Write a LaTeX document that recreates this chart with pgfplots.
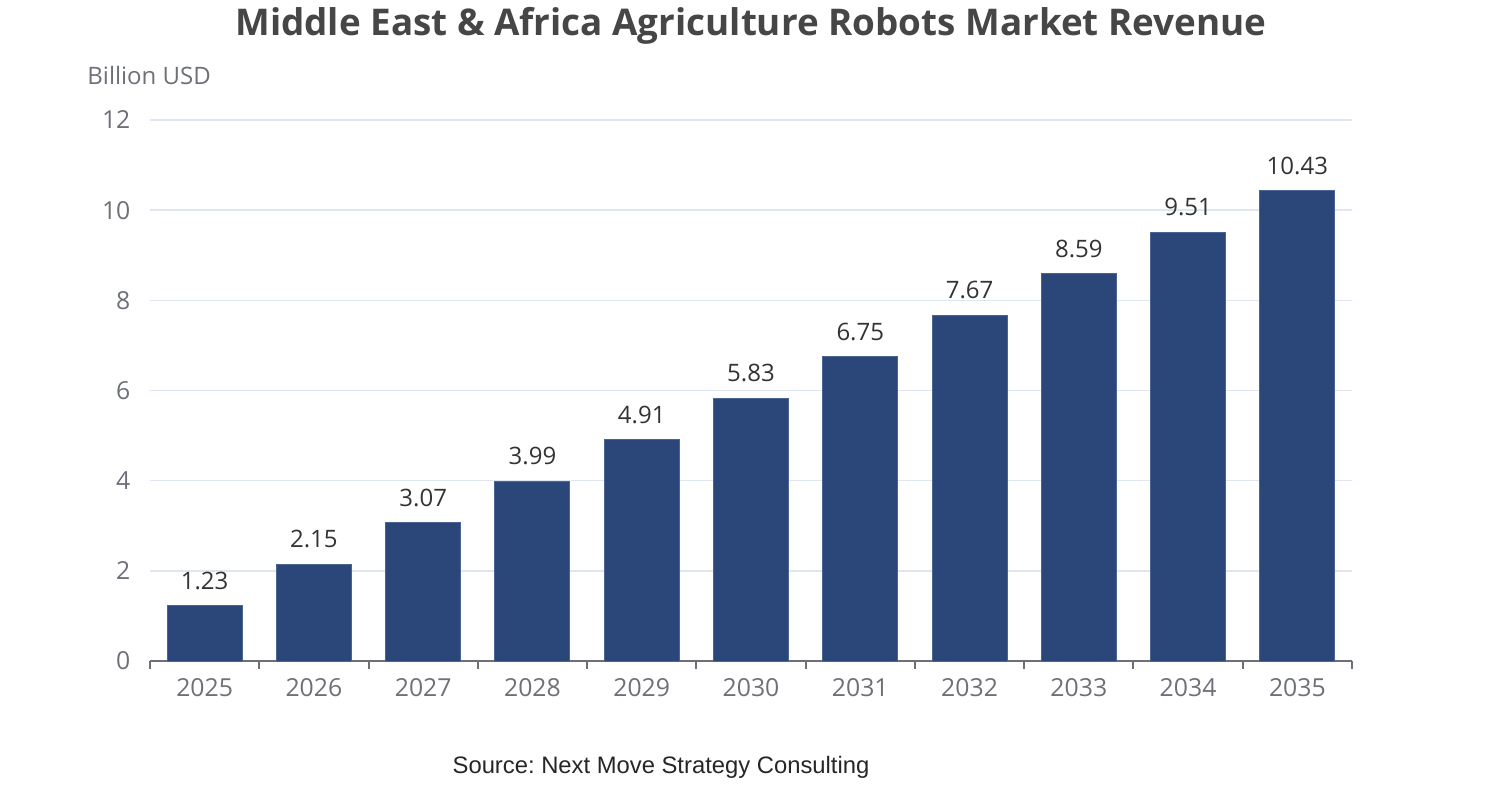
\documentclass[border=0pt]{standalone}
\usepackage{pgfplots}
\pgfplotsset{compat=1.18}
\usepackage{fontspec}
\setmainfont{Open Sans}
\newfontfamily\srcfont{Liberation Sans}
\definecolor{barc}{HTML}{2B4779}
\definecolor{barb}{HTML}{4A6494}
\definecolor{tickc}{HTML}{6E7079}
\definecolor{gridc}{HTML}{E0E6F1}
\definecolor{titlec}{HTML}{464646}
\definecolor{labc}{HTML}{333333}
\pgfplotstableread{
x y
0 1.23
1 2.15
2 3.07
3 3.99
4 4.91
5 5.83
6 6.75
7 7.67
8 8.59
9 9.51
10 10.43
}\datatable
\frenchspacing
\begin{document}
\begin{tikzpicture}
\useasboundingbox (0pt,0pt) rectangle (751pt,400pt);
\begin{axis}[
  at={(75pt,69.5pt)}, anchor=south west,
  scale only axis, width=601pt, height=270.5pt,
  xmin=-0.5, xmax=10.5, ymin=0, ymax=12,
  ybar, bar width=37.5pt,
  axis x line*=bottom, axis y line*=left,
  y axis line style={draw=none},
  x axis line style={draw=tickc, line width=1pt},
  xtick={0,...,10},
  xticklabels={2025,2026,2027,2028,2029,2030,2031,2032,2033,2034,2035},
  major x tick style={draw=none},
  minor xtick={-0.5,0.5,...,10.5},
  minor x tick style={draw=tickc, line width=1pt},
  minor tick length=4pt, tick align=outside,
  ytick={0,2,...,12},
  major y tick style={draw=none},
  ymajorgrids, grid style={draw=gridc, line width=0.7pt},
  tick label style={font=\fontsize{12.4}{14}\selectfont, text=tickc},
  xticklabel style={yshift=-1pt},
  yticklabel style={xshift=-2pt},
  /pgf/number format/assume math mode=true,
  nodes near coords={\pgfmathprintnumber[fixed,precision=2,fixed zerofill]{\pgfplotspointmeta}},
  nodes near coords style={font=\fontsize{12}{14}\selectfont, text=labc, anchor=south, yshift=4.5pt},
  clip=false,
]
\addplot[fill=barc, draw=barb, line width=0.5pt] table[x=x,y=y]{\datatable};
\end{axis}
\node[font=\fontsize{18.4}{22}\selectfont\bfseries, text=titlec] at (375.5pt,387pt) {Middle East \& Africa Agriculture Robots Market Revenue};
\node[font=\fontsize{12}{14}\selectfont, text=tickc, anchor=west, inner sep=0] at (43.5pt,362.5pt) {Billion USD};
\node[font=\srcfont\fontsize{11.9}{13}\selectfont, text=black!85, inner sep=0] at (330.5pt,16.5pt) {Source: Next Move Strategy Consulting};
\end{tikzpicture}
\end{document}
